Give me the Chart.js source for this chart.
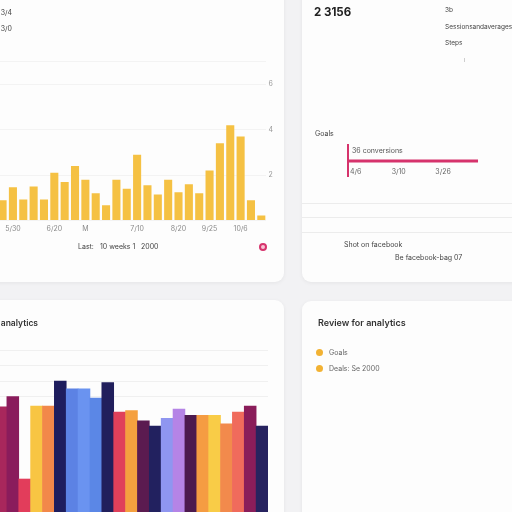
<!DOCTYPE html>
<html>
<head>
<meta charset="utf-8">
<script src="https://cdn.jsdelivr.net/npm/chart.js@4.4.1/dist/chart.umd.min.js"></script>
<style>
  html, body { margin: 0; padding: 0; width: 512px; height: 512px; overflow: hidden; background: #f2f2f4; font-family: Inter, "Open Sans", sans-serif; color: #333; }
  .card { position: absolute; background: #fdfdfd; border-radius: 9px; box-shadow: 0 1px 4px rgba(0, 0, 0, 0.06); }
  .t { position: absolute; white-space: nowrap; font-size: 7px; line-height: 8px; color: #444; will-change: transform; }
  .wrap { position: absolute; }
  .sep { position: absolute; left: 302px; width: 210px; height: 1px; background: #ececec; }
  .dot { position: absolute; width: 7px; height: 7px; border-radius: 50%; background: #f2b233; }
</style>
</head>
<body>
  <div class="card" style="left:-20px;top:-20px;width:304px;height:302px"></div>
  <div class="card" style="left:302px;top:-20px;width:240px;height:302px"></div>
  <div class="card" style="left:-20px;top:300px;width:304px;height:260px"></div>
  <div class="card" style="left:302px;top:301px;width:240px;height:260px"></div>

  <!-- top left -->
  <div class="t" style="left:-30px;width:42px;text-align:right;top:9px">3/4</div>
  <div class="t" style="left:-30px;width:42px;text-align:right;top:25px">3/0</div>
  <div class="wrap" style="left:-12px;top:50px;width:290px;height:187px"><canvas id="visitsChart"></canvas></div>
  <div class="t" style="left:78px;top:243px">Last:</div>
  <div class="t" style="left:100px;top:243px">10 weeks 1</div>
  <div class="t" style="left:141px;top:243px">2000</div>
  <div style="position:absolute;left:259px;top:243px;width:4px;height:4px;border:2px solid #d6336c;border-radius:50%;background:#f7c3d4"></div>

  <!-- top right -->
  <div class="t" style="left:314px;top:6px;font-size:11.5px;line-height:13px;font-weight:700;color:#222">2 3156</div>
  <div class="t" style="left:445px;top:6px;font-size:6.5px">3b</div>
  <div class="t" style="left:445px;top:23px;font-size:6.5px">Sessionsandaveragesession</div>
  <div class="t" style="left:445px;top:39px;font-size:6.5px">Steps</div>
  <div class="t" style="left:464px;top:56px;font-size:6px;color:#aaa">ı</div>
  <div class="t" style="left:315px;top:130px">Goals</div>
  <div class="wrap" style="left:336px;top:137px;width:149px;height:48px"><canvas id="goalChart"></canvas></div>
  <div class="sep" style="top:203px"></div>
  <div class="sep" style="top:217px"></div>
  <div class="sep" style="top:232px"></div>
  <div class="t" style="left:344px;top:241px">Shot on facebook</div>
  <div class="t" style="left:395px;top:254px">Be facebook-bag 07</div>

  <!-- bottom left -->
  <div class="t" style="left:-80px;width:118px;text-align:right;top:318px;font-size:8.5px;line-height:10px;font-weight:600;color:#333">Revenue analytics</div>
  <div class="wrap" style="left:-5px;top:350px;width:273px;height:171px"><canvas id="revenueChart"></canvas></div>

  <!-- bottom right -->
  <div class="t" style="left:318px;top:318px;font-size:9px;line-height:10px;font-weight:600;color:#333">Review for analytics</div>
  <div class="dot" style="left:316px;top:349px"></div>
  <div class="t" style="left:329px;top:349px;color:#666">Goals</div>
  <div class="dot" style="left:316px;top:365px"></div>
  <div class="t" style="left:329px;top:365px;color:#666">Deals: Se 2000</div>

<script>
const visitLabels = ["", "5/30", "", "", "", "6/20", "", "", "M", "", "", "", "", "7/10", "", "", "", "8/20", "", "", "9/25", "", "", "10/6", "", ""];
const visitValues = [0.9, 1.47, 0.93, 1.5, 0.93, 2.1, 1.7, 2.4, 1.8, 1.2, 0.67, 1.8, 1.4, 2.9, 1.55, 1.15, 1.8, 1.25, 1.6, 1.2, 2.2, 3.4, 4.2, 3.7, 0.9, 0.22];

const goalCategories = ["36 conversions", "", ""];
const goalValues = [null, 2.97, null];
const goalTicks = ["4/6", "3/10", "3/26", ""];

const revenueLabels = ["A", "B", "C", "D", "E", "F", "G", "H", "I", "J", "K", "L", "M", "N", "O", "P", "Q", "R", "S", "T", "U", "V", "W"];
const revenueValues = [73.5, 80, 27, 74, 74, 90, 85, 85, 79, 89, 70, 71, 64.5, 61, 66, 72, 68, 68, 68, 62.5, 70, 74, 61];
const revenueColors = ["#a8275c", "#8a1c5c", "#e23d5b", "#f8c543", "#f2884a", "#1e1d5e", "#5c82e4", "#6a93f0", "#5b87e6", "#211f5c", "#e0405a", "#f5a03f", "#5b1b50", "#22215f", "#8f96f0", "#b584e6", "#4c1a4e", "#f59c42", "#f9cc47", "#f28a4c", "#f06b5c", "#8a1d5a", "#27235f"];

Chart.defaults.font.family = "Inter, 'Open Sans', sans-serif";
Chart.defaults.font.size = 7;
Chart.defaults.animation = false;

new Chart(document.getElementById("visitsChart"), {
  type: "bar",
  data: {
    labels: visitLabels,
    datasets: [{ data: visitValues, backgroundColor: "#f5c143", categoryPercentage: 1, barPercentage: 0.78 }]
  },
  options: {
    responsive: true,
    maintainAspectRatio: false,
    plugins: { legend: { display: false }, tooltip: { enabled: false } },
    layout: { padding: { top: 11.5, left: 9.4, right: 3, bottom: 0 } },
    scales: {
      x: {
        grid: { display: false, drawTicks: false },
        border: { display: false },
        ticks: { autoSkip: false, maxRotation: 0, color: "#8a8a8a", padding: 4 }
      },
      y: {
        position: "right",
        min: 0,
        max: 7,
        grid: { color: "rgba(0,0,0,0.04)", drawTicks: false },
        border: { display: false },
        ticks: { stepSize: 2, padding: 2, color: "#999", callback: (v) => (v === 0 || v % 2 ? "" : v) }
      }
    }
  }
});

new Chart(document.getElementById("goalChart"), {
  type: "bar",
  data: {
    labels: goalCategories,
    datasets: [{ data: goalValues, backgroundColor: "#d6336c", barThickness: 2.5 }]
  },
  options: {
    indexAxis: "y",
    responsive: true,
    maintainAspectRatio: false,
    plugins: { legend: { display: false }, tooltip: { enabled: false } },
    layout: { padding: { top: 4, left: 4, right: 6, bottom: 4 } },
    scales: {
      x: {
        position: { y: 1.5 },
        min: 0,
        max: 3,
        border: { display: false },
        grid: { display: false, drawTicks: false },
        ticks: { stepSize: 1, align: "start", padding: 1, color: "#666", callback: (v, i) => (i === 0 ? " " + goalTicks[i] : goalTicks[i]) }
      },
      y: {
        grid: { display: false, drawTicks: false },
        border: { display: true, color: "#d6336c", width: 2 },
        ticks: { mirror: true, padding: 4, color: "#555" }
      }
    }
  }
});

new Chart(document.getElementById("revenueChart"), {
  type: "bar",
  data: {
    labels: revenueLabels,
    datasets: [{ data: revenueValues, backgroundColor: revenueColors, categoryPercentage: 1, barPercentage: 1 }]
  },
  options: {
    responsive: true,
    maintainAspectRatio: false,
    plugins: { legend: { display: false }, tooltip: { enabled: false } },
    layout: { padding: 0 },
    scales: {
      x: { display: false },
      y: {
        min: 0,
        max: 110,
        grid: { drawTicks: false, color: (ctx) => (ctx.tick && ctx.tick.value >= 80 ? "rgba(0,0,0,0.05)" : "rgba(0,0,0,0)") },
        border: { display: false },
        ticks: { display: false, stepSize: 10 }
      }
    }
  }
});
</script>
</body>
</html>
